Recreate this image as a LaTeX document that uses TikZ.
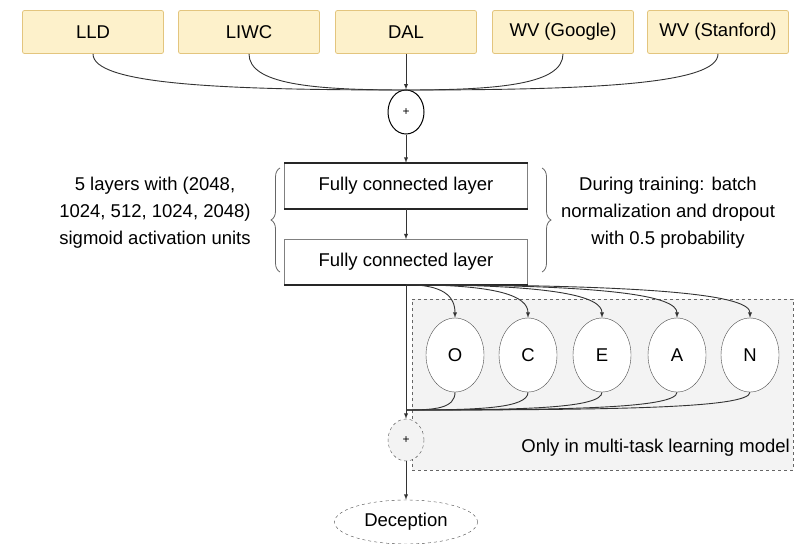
\documentclass[tikz,border=0pt]{standalone}
\usepackage{fontspec}
\setmainfont{Liberation Sans}
\usepackage{tikz}
\usetikzlibrary{shapes,arrows,decorations.pathreplacing,backgrounds,positioning,fit}

\definecolor{featfill}{HTML}{FDF1CB}
\definecolor{featline}{HTML}{E3C57E}
\definecolor{taskfill}{HTML}{F3F3F3}

\begin{document}
\begin{tikzpicture}[x=1pt,y=-1pt]
			\tikzstyle{Feature}	= [rectangle, rounded corners=2pt, draw=featline, fill=featfill, line width=0.8pt, minimum width=141pt, minimum height=43pt, inner sep=0pt, font=\fontsize{18.5}{22}\selectfont]
			\tikzstyle{Sum}		= [ellipse, draw, fill=white, minimum width=36pt, minimum height=42pt, inner sep=0pt, font=\fontsize{12}{14}\selectfont]
			\tikzstyle{Layer}	= [rectangle, draw=gray, fill=white, minimum width=243pt, minimum height=46pt, inner sep=0pt, font=\fontsize{18.5}{22}\selectfont]
			\tikzstyle{Trait}	= [ellipse, draw=black!70, fill=white, minimum width=58pt, minimum height=74pt, inner sep=0pt, font=\fontsize{18.5}{22}\selectfont]
			\tikzstyle{Note}	= [align=center, inner sep=0pt, font=\fontsize{18.5}{27}\selectfont]
			\tikzstyle{Edge}	= [black!80, line width=0.9pt]
			\tikzstyle{Thick}	= [black!85, line width=1.8pt]
			\tikzstyle{Brace}	= [black!60, line width=0.8pt, decorate, decoration={brace, amplitude=9pt}]

			\useasboundingbox (0,0) rectangle (802,543);

			% multi-task region
			\node (task) at (602.5,384.5) [rectangle, draw=black!60, dashed, fill=taskfill, minimum width=381pt, minimum height=171pt] {};
			\node (only) at (790,448) [anchor=east, inner sep=0pt, font=\fontsize{18.5}{22}\selectfont] {Only in multi-task learning model};

			% input features
			\node (lld)  at (93,32)  [Feature] {LLD};
			\node (liwc) at (249,32) [Feature] {LIWC};
			\node (dal)  at (406,32) [Feature] {DAL};
			\node (wvg)  at (563,32) [Feature] {WV (Google)};
			\node (wvs)  at (718,32) [Feature] {WV (Stanford)};
			\coordinate (j1) at (406,90);

			\node (plus1) at (406,112) [Sum][line width=1pt, minimum height=44pt] {+};

			% shared layers
			\node (fc1) at (406,186) [Layer] {Fully connected layer};
			\node (fc2) at (406,262) [Layer][minimum height=45pt] {Fully connected layer};
			\draw (fc1.north west) to (fc1.north east) [Thick];
			\draw (fc1.south west) to (fc1.south east) [Thick];
			\draw (fc2.south west) to (fc2.south east) [Thick];

			\coordinate (bl0) at (280,272);
			\coordinate (bl1) at (280,168);
			\coordinate (br0) at (542,168);
			\coordinate (br1) at (542,272);
			\draw (bl0) to (bl1) [Brace];
			\draw (br0) to (br1) [Brace];
			\node (left)  at (155,213) [Note] {5 layers with (2048,\\1024, 512, 1024, 2048)\\sigmoid activation units};
			\node (right) at (668,213) [Note] {During training: batch\\normalization and dropout\\with 0.5 probability};

			% personality traits
			\node (o) at (455,355) [Trait] {O};
			\node (c) at (528,355) [Trait] {C};
			\node (e) at (602,355) [Trait] {E};
			\node (a) at (677,355) [Trait] {A};
			\node (n) at (750,355) [Trait] {N};
			\coordinate (j2) at (406,410);

			\node (plus2) at (406,440) [Sum][dashed, draw=black!70, fill=taskfill] {+};
			\node (dec) at (406,522) [ellipse, draw=black!70, dashed, fill=white, minimum width=143pt, minimum height=44pt, inner sep=0pt, font=\fontsize{18.5}{22}\selectfont] {Deception};

			\draw [-] (lld.south)  .. controls +(0,30) and +(-190,0) .. (j1) [Edge];
			\draw [-] (liwc.south) .. controls +(0,30) and +(-95,0) .. (j1) [Edge];
			\draw [-] (wvg.south)  .. controls +(0,30) and +(95,0) .. (j1) [Edge];
			\draw [-] (wvs.south)  .. controls +(0,30) and +(190,0) .. (j1) [Edge];
			\draw [-latex] (dal) to (plus1) [Edge];
			\draw [-latex] (plus1) to (fc1) [Edge];
			\draw [-latex] (fc1) to (fc2) [Edge];

			\foreach \t/\dx in {o/49,c/122,e/196,a/271,n/344}{
				\draw [-latex] (fc2.south) .. controls +({0.75*\dx},0) and +(0,-22) .. (\t.north) [Edge];
				\draw [-] (\t.south) .. controls +(0,16) and +({0.6*\dx},0) .. (j2) [Edge];
			}
			\draw [-latex] (fc2) to (plus2) [Edge];
			\draw [-latex] (plus2) to (dec) [Edge];
\end{tikzpicture}
\end{document}
